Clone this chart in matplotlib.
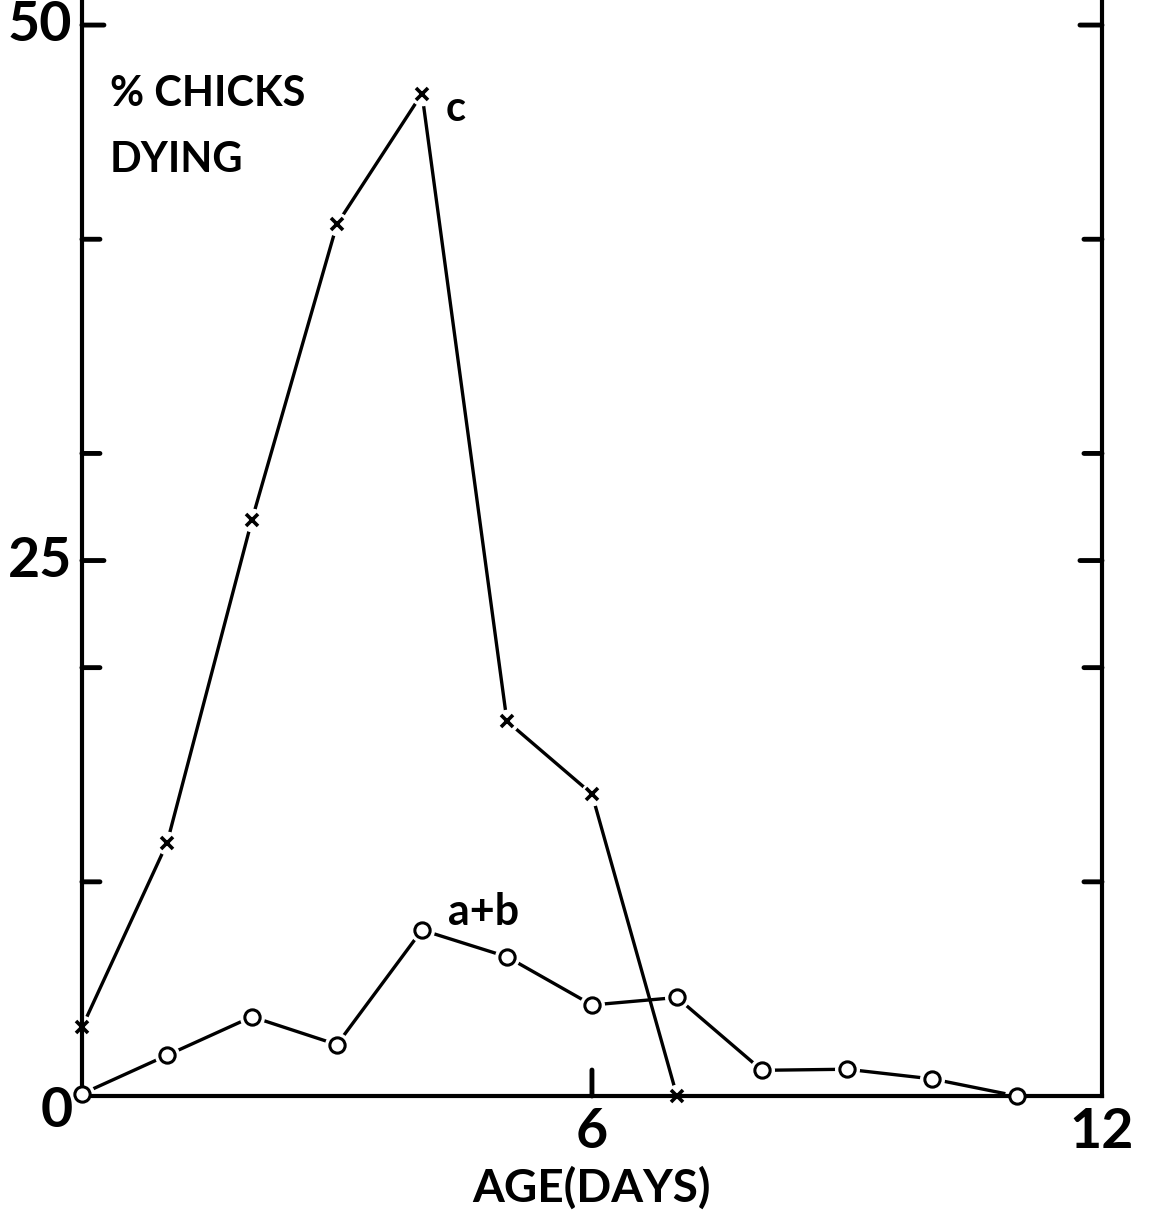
import matplotlib
matplotlib.use("Agg")
import matplotlib.pyplot as plt

plt.rcParams['font.family'] = ['Lato', 'DejaVu Sans']

# data
days_c = [0, 1, 2, 3, 4, 5, 6, 7]
pct_c = [3.2, 11.8, 26.9, 40.7, 46.8, 17.5, 14.1, 0.0]

days_ab = [0, 1, 2, 3, 4, 5, 6, 7, 8, 9, 10, 11]
pct_ab = [0.1, 1.9, 3.7, 2.4, 7.75, 6.5, 4.25, 4.6, 1.2, 1.25, 0.8, 0.0]

left_ticks = [10, 20, 25, 30, 40, 50]
tick_labels_y = {0: '0', 25: '25', 50: '50'}
tick_labels_x = {6: '6', 12: '12'}

fig = plt.figure(figsize=(11.51, 12.12), dpi=100)
ax = fig.add_axes([0.0712, 0.0957, 0.8862, 0.9043])
ax.set_xlim(0, 12)
ax.set_ylim(0, 51.17)

# lines, with small white gaps round each marker
ax.plot(days_c, pct_c, color='black', lw=2.4, zorder=2, clip_on=False)
ax.plot(days_c, pct_c, ls='none', marker='o', ms=16, mfc='white', mec='white', zorder=3, clip_on=False)
ax.plot(days_c, pct_c, ls='none', marker='x', ms=8, mew=2.6, color='black', zorder=6, clip_on=False)

ax.plot(days_ab, pct_ab, color='black', lw=2.4, zorder=2, clip_on=False)
ax.plot(days_ab, pct_ab, ls='none', marker='o', ms=17, mfc='white', mec='white', zorder=3, clip_on=False)
ax.plot(days_ab, pct_ab, ls='none', marker='o', ms=11, mfc='white', mec='black', mew=2.2, zorder=6, clip_on=False)

for s in ['left', 'right', 'bottom']:
    ax.spines[s].set_linewidth(3)
    ax.spines[s].set_zorder(4)
ax.spines['top'].set_visible(False)
for s in ax.spines.values():
    s.set_clip_on(False)

ax.set_xticks([])
ax.set_yticks([])

# inward tick marks on both vertical axes and one at day 6
for v in left_ticks:
    ln = 22 if v in (25, 50) else 18
    ax.annotate('', xy=(0, v), xycoords=('axes fraction', 'data'),
                xytext=(ln, 0), textcoords='offset pixels',
                arrowprops=dict(arrowstyle='-', lw=3.5, color='black', shrinkA=0, shrinkB=0))
    ax.annotate('', xy=(1, v), xycoords=('axes fraction', 'data'),
                xytext=(-ln, 0), textcoords='offset pixels',
                arrowprops=dict(arrowstyle='-', lw=3.5, color='black', shrinkA=0, shrinkB=0))
ax.annotate('', xy=(6, 0), xytext=(0, 26), textcoords='offset pixels',
            arrowprops=dict(arrowstyle='-', lw=3.5, color='black', shrinkA=0, shrinkB=0))

for v, t in tick_labels_y.items():
    if v == 0:
        ax.text(-0.3, v - 0.7, t, ha='center', va='center', fontsize=40, fontweight='bold')
    else:
        ax.text(-0.12, v, t, ha='right', va='center', fontsize=40, fontweight='bold')
for v, t in tick_labels_x.items():
    ax.text(v, -1.7, t, ha='center', va='center', fontsize=40, fontweight='bold')

ax.text(6, -4.3, 'AGE(DAYS)', ha='center', va='center', fontsize=33, fontweight='bold')
ax.text(0.33, 46.8, '% CHICKS', ha='left', va='center', fontsize=30, fontweight='bold')
ax.text(0.33, 43.7, 'DYING', ha='left', va='center', fontsize=30, fontweight='bold')
ax.text(4.4, 46.1, 'c', ha='center', va='center', fontsize=30, fontweight='bold')
ax.text(4.72, 8.6, 'a+b', ha='center', va='center', fontsize=31, fontweight='bold')

fig.savefig('out.png', dpi=100)
